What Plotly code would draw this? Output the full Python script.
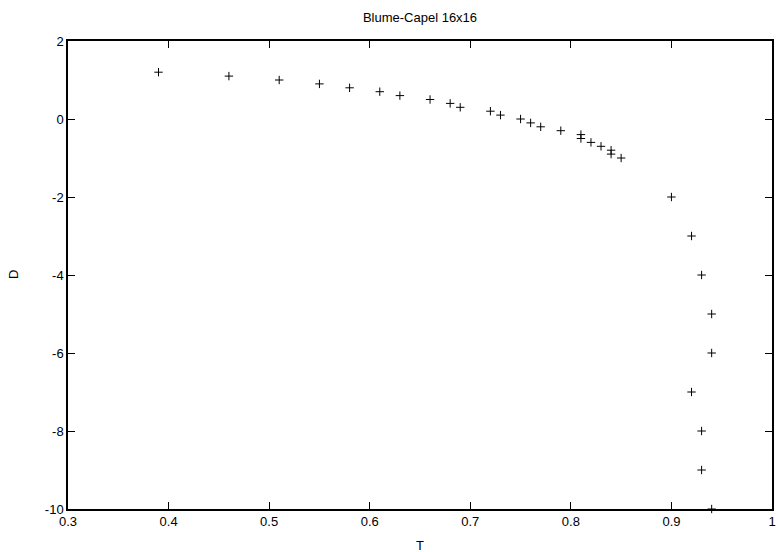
import plotly.graph_objects as go

T = [0.39, 0.46, 0.51, 0.55, 0.58, 0.61, 0.63, 0.66, 0.68, 0.69, 0.72, 0.73,
     0.75, 0.76, 0.77, 0.79, 0.81, 0.81, 0.82, 0.83, 0.84, 0.84, 0.85,
     0.90, 0.92, 0.93, 0.94, 0.94, 0.92, 0.93, 0.93, 0.94]
D = [1.2, 1.1, 1.0, 0.9, 0.8, 0.7, 0.6, 0.5, 0.4, 0.3, 0.2, 0.1,
     0.0, -0.1, -0.2, -0.3, -0.4, -0.5, -0.6, -0.7, -0.8, -0.9, -1.0,
     -2, -3, -4, -5, -6, -7, -8, -9, -10]

x_ticks = [0.3, 0.4, 0.5, 0.6, 0.7, 0.8, 0.9, 1.0]
x_tick_labels = ["0.3", "0.4", "0.5", "0.6", "0.7", "0.8", "0.9", "1"]
y_ticks = [2, 0, -2, -4, -6, -8, -10]
y_tick_labels = ["2", "0", "-2", "-4", "-6", "-8", "-10"]

FONT = "Liberation Sans, Arial, Helvetica, sans-serif"

fig = go.Figure()
fig.add_trace(go.Scatter(
    x=T, y=D, mode="markers",
    marker=dict(symbol="cross-thin", size=6, color="black",
                line=dict(color="black", width=1)),
    cliponaxis=False, showlegend=False,
))

fig.update_xaxes(range=[0.3, 1.0], tickmode="array", tickvals=x_ticks,
                 ticktext=x_tick_labels)
fig.update_yaxes(range=[-10, 2], tickmode="array", tickvals=y_ticks,
                 ticktext=y_tick_labels)
fig.update_xaxes(showline=True, linecolor="black", linewidth=1.5, mirror="allticks",
                 ticks="inside", ticklen=7, tickwidth=1, tickcolor="#000000",
                 showgrid=False, zeroline=False,
                 tickfont=dict(family=FONT, size=13, color="black"))
fig.update_yaxes(showline=True, linecolor="black", linewidth=1.5, mirror="allticks",
                 ticks="inside", ticklen=7, tickwidth=1, tickcolor="#000000",
                 showgrid=False, zeroline=False,
                 tickfont=dict(family=FONT, size=13, color="black"))

fig.update_layout(
    template="none",
    width=779, height=552,
    margin=dict(l=68, r=7, t=41, b=43),
    paper_bgcolor="white", plot_bgcolor="white",
    font=dict(family=FONT, size=13, color="black"),
    title=dict(text="Blume-Capel 16x16", x=0.5, xref="paper",
               y=1 - 17 / 552, yref="container", yanchor="middle",
               xanchor="center", font=dict(family=FONT, size=13, color="black")),
    annotations=[
        dict(text="T", xref="paper", yref="paper", x=0.5, y=-36 / 468,
             xanchor="center", yanchor="middle", showarrow=False,
             font=dict(family=FONT, size=13, color="black")),
        dict(text="D", xref="paper", yref="paper", x=(13 - 68) / 704, y=0.5,
             xanchor="center", yanchor="middle", showarrow=False, textangle=-90,
             font=dict(family=FONT, size=13, color="black")),
    ],
)

fig.write_html("out.html")
